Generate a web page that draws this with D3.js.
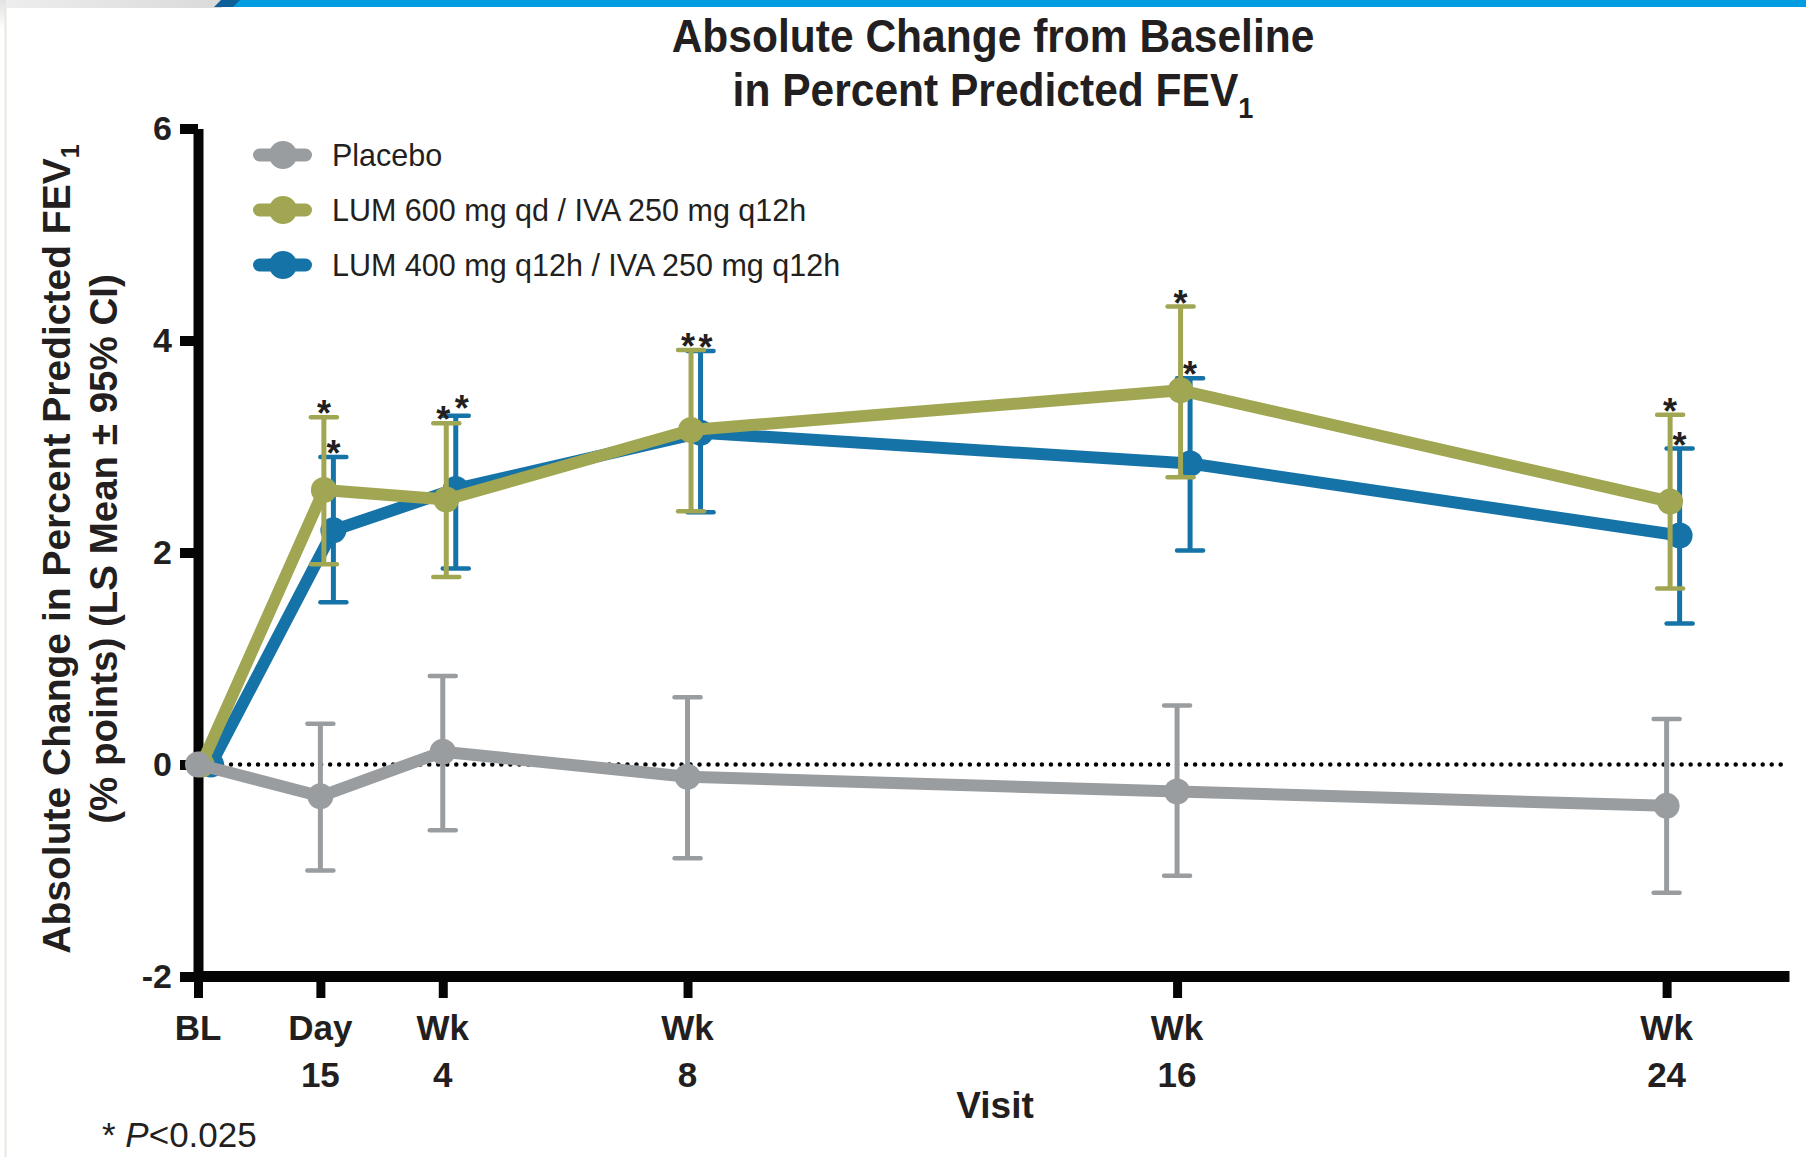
<!DOCTYPE html>
<html>
<head>
<meta charset="utf-8">
<script src="https://cdn.jsdelivr.net/npm/d3@7"></script>
<style>
  html, body { margin: 0; padding: 0; background: #ffffff; }
  svg { display: block; }
  text { font-family: "Liberation Sans", Arial, Helvetica, sans-serif; fill: #231f20; }
</style>
</head>
<body>
<svg id="chart" width="1806" height="1157"></svg>
<script>
// ---- Data: LS mean change from baseline in ppFEV1 with 95% CI ----
const visitWeeks  = [0, 2, 4, 8, 16, 24];
const visitLabels = [["BL"], ["Day", "15"], ["Wk", "4"], ["Wk", "8"], ["Wk", "16"], ["Wk", "24"]];
const yTickValues = [-2, 0, 2, 4, 6];

const seriesNames = [
  "Placebo",
  "LUM 600 mg qd / IVA 250 mg q12h",
  "LUM 400 mg q12h / IVA 250 mg q12h"
];

const placeboMean = [0, -0.30, 0.12, -0.115, -0.255, -0.39];
const placeboLow  = [null, -1.00, -0.62, -0.885, -1.05, -1.21];
const placeboHigh = [null, 0.385, 0.835, 0.635, 0.557, 0.43];
const placeboSig  = [false, false, false, false, false, false];

const lum600Mean = [0, 2.59, 2.50, 3.156, 3.53, 2.48];
const lum600Low  = [null, 1.89, 1.77, 2.39, 2.71, 1.66];
const lum600High = [null, 3.275, 3.22, 3.91, 4.32, 3.30];
const lum600Sig  = [false, true, true, true, true, true];

const lum400Mean = [0, 2.21, 2.60, 3.13, 2.84, 2.16];
const lum400Low  = [null, 1.53, 1.85, 2.38, 2.02, 1.33];
const lum400High = [null, 2.90, 3.29, 3.90, 3.645, 2.98];
const lum400Sig  = [false, true, true, true, true, true];

const footnote = "P<0.025";

// ---- Styling ----
const COLORS = { placebo: "#999da0", lum600: "#a1a653", lum400: "#1673a7" };

const svg = d3.select("#chart");

// ---- Header band and panel edge ----
const defs = svg.append("defs");
const hg = defs.append("linearGradient").attr("id", "hdrGray").attr("x1", 0).attr("x2", 1).attr("y1", 0).attr("y2", 0);
hg.append("stop").attr("offset", 0).attr("stop-color", "#eeeeee");
hg.append("stop").attr("offset", 1).attr("stop-color", "#dadada");
const vg = defs.append("linearGradient").attr("id", "edgeGray").attr("x1", 0).attr("x2", 0).attr("y1", 0).attr("y2", 1);
vg.append("stop").attr("offset", 0).attr("stop-color", "#e2e2e2");
vg.append("stop").attr("offset", 1).attr("stop-color", "#ffffff");

svg.append("rect").attr("x", 0).attr("y", 0).attr("width", 222).attr("height", 8).attr("fill", "url(#hdrGray)");
svg.append("rect").attr("x", 0).attr("y", 0).attr("width", 6).attr("height", 30).attr("fill", "url(#edgeGray)");
svg.append("rect").attr("x", 230).attr("y", 0).attr("width", 1806 - 230).attr("height", 7).attr("fill", "#009ee0");
svg.append("path").attr("d", "M214,7 L221,0 L240,0 L233,7 Z").attr("fill", "#0f5f98");
svg.append("line").attr("x1", 5.5).attr("x2", 5.5).attr("y1", 8).attr("y2", 1157)
  .attr("stroke", "#ebe7dc").attr("stroke-width", 2);

// ---- Scales ----
const x = d3.scaleLinear().domain([0, 26]).range([198, 1789]);
const y = d3.scaleLinear().domain([-2, 6]).range([976.5, 128.5]);

// ---- Title ----
const title = svg.append("g").attr("transform", "translate(993,0) scale(0.905,1)");
title.append("text").attr("x", 0).attr("y", 52).attr("text-anchor", "middle")
  .attr("font-size", 47).attr("font-weight", "bold").text("Absolute Change from Baseline");
const t2 = title.append("text").attr("x", 0).attr("y", 106).attr("text-anchor", "middle")
  .attr("font-size", 47).attr("font-weight", "bold");
t2.append("tspan").text("in Percent Predicted FEV");
t2.append("tspan").attr("font-size", 30).attr("dy", 12).text("1");

// ---- Axes ----
const yAxis = svg.append("g").attr("transform", "translate(198,0)")
  .call(d3.axisLeft(y).tickValues(yTickValues).tickSize(18).tickSizeOuter(0).tickPadding(8)
    .tickFormat(d => String(d)));
yAxis.select(".domain").attr("stroke", "#050505").attr("stroke-width", 10);
yAxis.selectAll(".tick line").attr("stroke", "#050505").attr("stroke-width", 10);
yAxis.selectAll(".tick text").attr("font-size", 34).attr("font-weight", "bold")
  .attr("font-family", "Liberation Sans, Arial, sans-serif").attr("fill", "#050505");

const xAxis = svg.append("g").attr("transform", "translate(0,976)")
  .call(d3.axisBottom(x).tickValues(visitWeeks).tickSize(22).tickSizeOuter(0).tickFormat(() => ""));
xAxis.select(".domain").attr("stroke", "#050505").attr("stroke-width", 11);
xAxis.selectAll(".tick line").attr("stroke", "#050505").attr("stroke-width", 9);
xAxis.selectAll(".tick text").remove();

const xLabels = svg.append("g");
visitWeeks.forEach((w, i) => {
  const t = xLabels.append("text").attr("text-anchor", "middle")
    .attr("font-size", 35).attr("font-weight", "bold").attr("fill", "#050505");
  visitLabels[i].forEach((s, k) => {
    t.append("tspan").attr("x", x(w)).attr("y", k === 0 ? 1039.5 : 1087).text(s);
  });
});

svg.append("text").attr("x", 995).attr("y", 1118).attr("text-anchor", "middle")
  .attr("font-size", 37).attr("font-weight", "bold").text("Visit");

// Y axis title (two rotated lines)
const yt = svg.append("g").attr("transform", "translate(0,549) rotate(-90)");
const yl1 = yt.append("text").attr("x", 0).attr("y", 70).attr("text-anchor", "middle")
  .attr("font-size", 39).attr("font-weight", "bold");
yl1.append("tspan").text("Absolute Change in Percent Predicted FEV");
yl1.append("tspan").attr("font-size", 25).attr("dy", 9).text("1");
yt.append("text").attr("x", 0).attr("y", 117).attr("text-anchor", "middle")
  .attr("font-size", 38.5).attr("font-weight", "bold").text("(% points) (LS Mean \u00b1 95% CI)");

// Footnote
const fn = svg.append("text").attr("x", 102).attr("y", 1147).attr("font-size", 35);
fn.append("tspan").text("* ");
fn.append("tspan").attr("font-style", "italic").text(footnote.slice(0, 1));
fn.append("tspan").text(footnote.slice(1));

// ---- Zero reference line ----
svg.append("line")
  .attr("x1", 222).attr("x2", x(26)).attr("y1", y(0)).attr("y2", y(0))
  .attr("stroke", "#000").attr("stroke-width", 4.5)
  .attr("stroke-dasharray", "0.01 9").attr("stroke-linecap", "round");

// ---- Series ----
const series = [
  { key: "lum400",  name: seriesNames[2], mean: lum400Mean,  low: lum400Low,  high: lum400High,  sig: lum400Sig,  dx: 13 },
  { key: "lum600",  name: seriesNames[1], mean: lum600Mean,  low: lum600Low,  high: lum600High,  sig: lum600Sig,  dx: 3.5 },
  { key: "placebo", name: seriesNames[0], mean: placeboMean, low: placeboLow, high: placeboHigh, sig: placeboSig, dx: 0 }
];

// When both active arms have their upper CI caps at nearly the same height,
// spread their asterisks apart so they do not collide.
const starShift = visitWeeks.map((w, i) => {
  if (lum600High[i] === null || lum400High[i] === null) return { lum600: [0, 0], lum400: [0, 0] };
  const gap = Math.abs(y(lum600High[i]) - y(lum400High[i]));
  if (gap >= 20) return { lum600: [0, 0], lum400: [0, 0] };
  const bluHigher = y(lum400High[i]) < y(lum600High[i]) - 4;
  return { lum600: [-3, 0], lum400: [bluHigher ? 6 : 5, bluHigher ? -4 : 0] };
});

const line = d3.line().x(d => x(d.w) + d.dx).y(d => y(d.v));

series.forEach(s => {
  const color = COLORS[s.key];
  const pts = visitWeeks.map((w, i) => ({
    w, i, v: s.mean[i], lo: s.low[i], hi: s.high[i], sig: s.sig[i], dx: s.dx
  }));
  const g = svg.append("g").attr("class", "series-" + s.key);

  // error bars
  const eb = g.selectAll(".eb").data(pts.filter(p => p.lo !== null)).join("g").attr("class", "eb");
  eb.append("line")
    .attr("x1", d => x(d.w) + d.dx).attr("x2", d => x(d.w) + d.dx)
    .attr("y1", d => y(d.lo)).attr("y2", d => y(d.hi))
    .attr("stroke", color).attr("stroke-width", 5);
  ["lo", "hi"].forEach(k => {
    eb.append("line")
      .attr("x1", d => x(d.w) + d.dx - 13).attr("x2", d => x(d.w) + d.dx + 13)
      .attr("y1", d => y(d[k])).attr("y2", d => y(d[k]))
      .attr("stroke", color).attr("stroke-width", 4.5).attr("stroke-linecap", "round");
  });

  // mean line
  g.append("path").datum(pts).attr("d", line)
    .attr("fill", "none").attr("stroke", color).attr("stroke-width", 12)
    .attr("stroke-linejoin", "round");

  // mean markers
  g.selectAll("circle").data(pts).join("circle")
    .attr("cx", d => x(d.w) + d.dx).attr("cy", d => y(d.v)).attr("r", 13)
    .attr("fill", color);

  // significance marks
  const shift = d => (starShift[d.i][s.key] || [0, 0]);
  g.selectAll(".sig").data(pts.filter(p => p.sig)).join("text").attr("class", "sig")
    .attr("x", d => x(d.w) + d.dx + shift(d)[0]).attr("y", d => y(d.hi) + 9 + shift(d)[1])
    .attr("text-anchor", "middle").attr("font-size", 36).attr("font-weight", "bold")
    .text("*");
});

// ---- Legend ----
const legendOrder = [
  { name: seriesNames[0], color: COLORS.placebo },
  { name: seriesNames[1], color: COLORS.lum600 },
  { name: seriesNames[2], color: COLORS.lum400 }
];
const lg = svg.append("g");
legendOrder.forEach((d, i) => {
  const cy = 155 + i * 55;
  lg.append("line").attr("x1", 259.5).attr("x2", 305.5).attr("y1", cy).attr("y2", cy)
    .attr("stroke", d.color).attr("stroke-width", 13).attr("stroke-linecap", "round");
  lg.append("circle").attr("cx", 283).attr("cy", cy).attr("r", 14).attr("fill", d.color);
  lg.append("text").attr("x", 332).attr("y", cy + 11).attr("font-size", 30.5).text(d.name);
});
</script>
</body>
</html>
